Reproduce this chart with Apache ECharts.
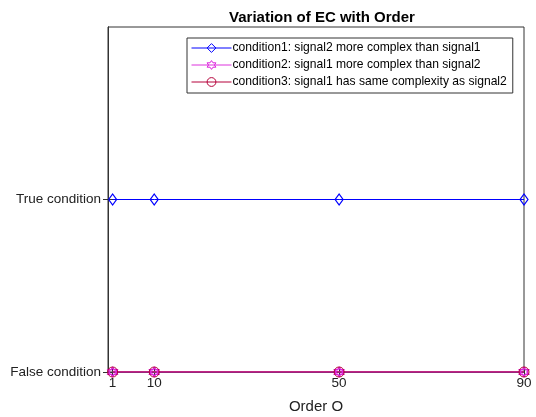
<!DOCTYPE html>
<html><head><meta charset="utf-8">
<script src="https://cdn.jsdelivr.net/npm/echarts@6/dist/echarts.min.js"></script>
<style>html,body{margin:0;padding:0;background:#fff}#c{width:536px;height:417px}</style>
</head><body><div id="c"></div>
<script>
const orders = [1, 10, 50, 90];
const cond1 = [1, 1, 1, 1];
const cond2 = [0, 0, 0, 0];
const cond3 = [0, 0, 0, 0];
const xTicks = [1, 10, 50, 90];
const yTicks = [0, 1];
const yTickLabels = {0: 'False condition', 1: 'True condition'};
const names = ['condition1: signal2 more complex than signal1',
               'condition2: signal1 more complex than signal2',
               'condition3: signal1 has same complexity as signal2'];

const font = 'Liberation Sans, Arial, sans-serif';
const hexagram = 'path://M0,-10 L2.9,-5 L8.66,-5 L5.8,0 L8.66,5 L2.9,5 L0,10 L-2.9,5 L-8.66,5 L-5.8,0 L-8.66,-5 L-2.9,-5 Z';
const pair = (xs, ys) => xs.map((x, i) => [x, ys[i]]);
const axisCol = '#333';

const chart = echarts.init(document.getElementById('c'), null, {renderer: 'canvas'});
chart.setOption({
  animation: false,
  backgroundColor: '#fff',
  title: {
    text: 'Variation of EC with Order', left: 317, top: 5, textAlign: 'center',
    textStyle: {fontFamily: font, fontSize: 15, fontWeight: 'bold', color: '#000'}
  },
  grid: {left: 108, right: 12, top: 27, bottom: 45, show: true, borderColor: axisCol, borderWidth: 1,
         backgroundColor: 'transparent', containLabel: false, outerBoundsMode: 'none'},
  legend: {
    orient: 'vertical', left: 187, top: 38, width: 326,
    padding: [4, 6, 5, 4], itemGap: 5, itemWidth: 40, itemHeight: 11,
    backgroundColor: '#fff', borderColor: '#333', borderWidth: 1, borderRadius: 0,
    lineStyle: {width: 1},
    itemStyle: {borderWidth: 1},
    textStyle: {fontFamily: font, fontSize: 12.1, color: '#000', padding: [0, 0, 0, -4]},
    data: names
  },
  xAxis: [{
    type: 'value', min: 0, max: 90, position: 'bottom',
    name: 'Order O', nameLocation: 'middle', nameGap: 27,
    nameTextStyle: {fontFamily: font, fontSize: 15, color: '#222'},
    axisLine: {show: true, lineStyle: {color: axisCol}},
    axisTick: {show: true, inside: true, length: 5, customValues: xTicks, lineStyle: {color: axisCol}},
    axisLabel: {customValues: xTicks, margin: 4, fontFamily: font, fontSize: 13.5, color: '#222'},
    splitLine: {show: false}
  }, {
    type: 'value', min: 0, max: 90, position: 'top',
    axisLine: {show: true, lineStyle: {color: axisCol}},
    axisTick: {show: true, inside: true, length: 5, customValues: xTicks, lineStyle: {color: axisCol}},
    axisLabel: {show: false}, splitLine: {show: false}
  }],
  yAxis: [{
    type: 'value', min: 0, max: 2, position: 'left',
    axisLine: {show: true, lineStyle: {color: axisCol}},
    axisTick: {show: true, inside: true, length: 5, customValues: yTicks, lineStyle: {color: axisCol}},
    axisLabel: {customValues: yTicks, margin: 7, fontFamily: font, fontSize: 13.5, color: '#222',
      formatter: v => yTickLabels[v] || ''},
    splitLine: {show: false}
  }, {
    type: 'value', min: 0, max: 2, position: 'right',
    axisLine: {show: true, lineStyle: {color: axisCol}},
    axisTick: {show: true, inside: true, length: 5, customValues: yTicks, lineStyle: {color: axisCol}},
    axisLabel: {show: false}, splitLine: {show: false}
  }],
  series: [{
    name: names[0], type: 'line', data: pair(orders, cond1),
    symbol: 'diamond', symbolSize: [8, 11],
    lineStyle: {color: '#0000ff', width: 1},
    itemStyle: {color: 'rgba(255,255,255,0)', borderColor: '#0000ff', borderWidth: 1.2}
  }, {
    name: names[1], type: 'line', data: pair(orders, cond2),
    symbol: hexagram, symbolSize: 9,
    lineStyle: {color: '#dd33dd', width: 1.5},
    itemStyle: {color: 'rgba(255,255,255,0)', borderColor: '#dd22dd', borderWidth: 1.5}
  }, {
    name: names[2], type: 'line', data: pair(orders, cond3),
    symbol: 'circle', symbolSize: 10,
    lineStyle: {color: '#b5003a', width: 1},
    itemStyle: {color: 'rgba(255,255,255,0)', borderColor: '#b5003a', borderWidth: 1}
  }]
});
</script></body></html>
